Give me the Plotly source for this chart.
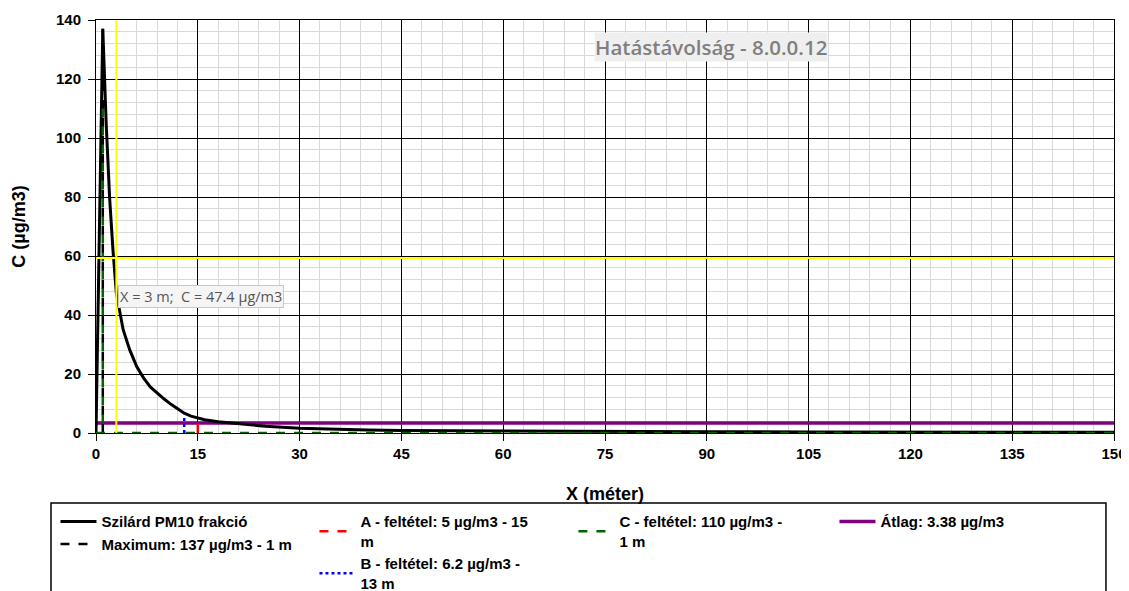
import plotly.graph_objects as go

# ---- data ----
dist_x = [0, 1, 1.5, 2, 2.5, 3, 4, 5, 6, 7, 8, 9, 10, 11, 12, 13, 14, 15, 16, 18, 20, 25, 30, 35, 40, 45, 60, 75, 90, 105, 120, 135, 150]
conc_c = [0, 137, 105, 80, 62, 47.4, 35, 28, 22.5, 18.7, 15.6, 13.5, 11.6, 9.8, 8.1, 6.7, 5.7, 5.0, 4.5, 3.8, 3.3, 2.3, 1.6, 1.2, 1.0, 0.85, 0.65, 0.5, 0.42, 0.36, 0.3, 0.26, 0.22]

max_x, max_c = 1, 137
a_x, a_c = 15, 5
b_x, b_c = 13, 6.2
c_x, c_c = 1, 110
avg_c = 3.38
x_start, x_end = 0, 150
cursor_x, cursor_c = 3, 47.4
yellow_h = 59.3

x_ticks = list(range(0, 151, 15))
y_ticks = list(range(0, 141, 20))

FONT = "Liberation Sans, Arial, sans-serif"

fig = go.Figure()

# Average
fig.add_trace(go.Scatter(x=[x_start, x_end], y=[avg_c, avg_c], mode="lines",
                         line=dict(color="#800080", width=3.5),
                         name="<b>Átlag: 3.38 µg/m3</b>", legend="legend4"))
# Main curve
fig.add_trace(go.Scatter(x=dist_x, y=conc_c, mode="lines",
                         line=dict(color="black", width=3),
                         name="<b>Szilárd PM10 frakció</b>", legend="legend"))
# Maximum
fig.add_trace(go.Scatter(x=[max_x, max_x], y=[0, max_c], mode="lines",
                         line=dict(color="black", width=2.5, dash="dash"),
                         name="<b>Maximum: 137 µg/m3 - 1 m</b>", legend="legend"))
# C condition (green dashed, also along base)
fig.add_trace(go.Scatter(x=[c_x, c_x, None, x_start, x_end], y=[c_c, 0, None, 0, 0], mode="lines",
                         line=dict(color="#006400", width=2.5, dash="dash"),
                         name="<b>C - feltétel: 110 µg/m3 -<br>1 m</b>", legend="legend3"))
# A condition
fig.add_trace(go.Scatter(x=[a_x, a_x], y=[0, a_c], mode="lines",
                         line=dict(color="#ff0000", width=2.5, dash="dash"),
                         name="<b>A - feltétel: 5 µg/m3 - 15<br>m</b>", legend="legend2"))
# B condition
fig.add_trace(go.Scatter(x=[b_x, b_x], y=[0, b_c], mode="lines",
                         line=dict(color="#0000ff", width=2.5, dash="dot"),
                         name="<b>B - feltétel: 6.2 µg/m3 -<br>13 m</b>", legend="legend2"))
# Yellow cursor lines
fig.add_trace(go.Scatter(x=[cursor_x, cursor_x], y=[0, 140], mode="lines",
                         line=dict(color="#ffff00", width=2), showlegend=False, hoverinfo="skip"))
fig.add_trace(go.Scatter(x=[x_start, x_end], y=[yellow_h, yellow_h], mode="lines",
                         line=dict(color="#ffff00", width=2), showlegend=False, hoverinfo="skip"))

legend_common = dict(orientation="v", xanchor="left", yanchor="top", bgcolor="rgba(0,0,0,0)",
                     font=dict(family=FONT, size=15, color="black"), tracegroupgap=0,
                     itemwidth=36, traceorder="normal")
LEG_Y = -0.175

fig.update_layout(
    width=1121, height=583,
    margin=dict(l=88, r=15, t=12, b=158, autoexpand=False),
    paper_bgcolor="white", plot_bgcolor="white",
    font=dict(family=FONT, size=15, color="black"),
    legend=dict(x=-0.0398, y=LEG_Y, **legend_common),
    legend2=dict(x=0.2146, y=LEG_Y, **legend_common),
    legend3=dict(x=0.469, y=LEG_Y, **legend_common),
    legend4=dict(x=0.7254, y=LEG_Y, **legend_common),
    xaxis=dict(range=[x_start, x_end], tickmode="array", tickvals=x_ticks,
               ticktext=[f"<b>{v}</b>" for v in x_ticks],
               showgrid=True, gridcolor="black", gridwidth=1,
               minor=dict(dtick=3, showgrid=True, gridcolor="#d9d9d9", gridwidth=1),
               showline=True, linecolor="black", linewidth=1, mirror=True,
               ticks="outside", ticklen=7, tickcolor="black", zeroline=False,
               tickfont=dict(size=15),
               title=dict(text="<b>X (méter)</b>", font=dict(size=18), standoff=26)),
    yaxis=dict(range=[0, 140], tickmode="array", tickvals=y_ticks,
               ticktext=[f"<b>{v}</b>" for v in y_ticks],
               showgrid=True, gridcolor="black", gridwidth=1,
               minor=dict(dtick=4, showgrid=True, gridcolor="#d9d9d9", gridwidth=1),
               showline=True, linecolor="black", linewidth=1, mirror=True,
               ticks="outside", ticklen=7, tickcolor="black", zeroline=False,
               tickfont=dict(size=15), ticklabelstandoff=4,
               title=dict(text="<b>C (µg/m3)</b>", font=dict(size=18), standoff=25)),
    showlegend=True,
)

# legend outer box
fig.add_shape(type="rect", xref="paper", yref="paper", x0=-0.0442, x1=0.9921, y0=-0.45, y1=-0.1695,
              line=dict(color="black", width=1.5), fillcolor="rgba(0,0,0,0)", layer="above")

# title badge
fig.add_annotation(x=0.604, y=0.935, xref="paper", yref="paper", xanchor="center", yanchor="middle",
                   showarrow=False,
                   text="Hatástávolság - 8.0.0.12",
                   font=dict(family="Open Sans", size=20.5, color="#7f7f7f", weight=600),
                   bgcolor="#efefef", borderpad=0)

# tooltip
fig.add_annotation(x=0.1036, y=0.3293, xref="paper", yref="paper", xanchor="center", yanchor="middle",
                   showarrow=False,
                   text=f"X = {cursor_x} m;  C = {cursor_c} µg/m3",
                   font=dict(family="Open Sans", size=14.5, color="#555555"),
                   bgcolor="#f5f5f5", bordercolor="#c8c8c8", borderwidth=1, borderpad=1)

fig.write_html("out.html")
